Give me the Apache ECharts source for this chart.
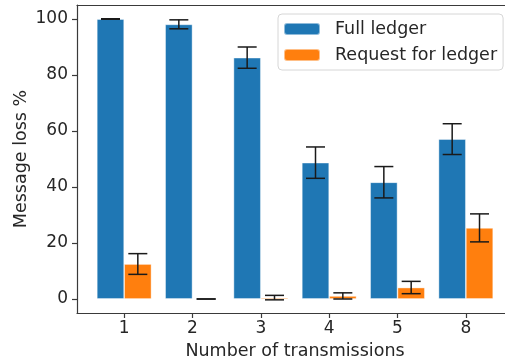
<!DOCTYPE html>
<html>
<head>
<meta charset="utf-8">
<script src="https://cdn.jsdelivr.net/npm/echarts@6/dist/echarts.min.js"></script>
<style>
  html, body { margin: 0; padding: 0; background: #fff; }
  #chart { width: 505px; height: 360px; }
</style>
</head>
<body>
<div id="chart"></div>
<script>
// Message loss by number of transmissions (mean and error half-width)
const categories = ['1', '2', '3', '4', '5', '8'];
const fullLedger = [100, 98.1, 86.2, 48.7, 41.7, 57.1];
const fullLedgerErr = [0.1, 1.6, 3.8, 5.6, 5.6, 5.5];
const requestLedger = [12.5, 0, 0.5, 1.1, 4.1, 25.4];
const requestLedgerErr = [3.7, 0, 0.8, 1.1, 2.2, 5.0];
const yTicks = [0, 20, 40, 60, 80, 100];

const seriesNames = ['Full ledger', 'Request for ledger'];
const colors = ['#1f77b4', '#ff7f0e'];
const offset = 0.2; // each bar is 0.4 category wide, side by side
const font = 'DejaVu Sans';
const ink = '#262626';

const xIndex = categories.map((_, i) => i);
const barData = (vals, shift) => vals.map((v, i) => [i + shift, v]);
const errData = (vals, errs, shift) => vals.map((v, i) => [i + shift, v - errs[i], v + errs[i]]);

function errorBar(params, api) {
  const x = api.value(0);
  const lo = api.coord([x, api.value(1)]);
  const hi = api.coord([x, api.value(2)]);
  const cap = 9.5;
  const style = { stroke: '#1a1a1a', lineWidth: 1.5 };
  return {
    type: 'group',
    children: [
      { type: 'line', shape: { x1: lo[0], y1: lo[1], x2: hi[0], y2: hi[1] }, style },
      { type: 'line', shape: { x1: hi[0] - cap, y1: hi[1], x2: hi[0] + cap, y2: hi[1] }, style },
      { type: 'line', shape: { x1: lo[0] - cap, y1: lo[1], x2: lo[0] + cap, y2: lo[1] }, style }
    ]
  };
}

const chart = echarts.init(document.getElementById('chart'), null, { renderer: 'canvas' });
const spine = { show: true, onZero: false, lineStyle: { color: '#3a3a3a', width: 1.2 } };
const tickStyle = { color: '#3a3a3a', width: 1.2 };

chart.setOption({
  animation: false,
  textStyle: { fontFamily: font, color: ink },
  grid: { left: 77, top: 5, right: -8, bottom: 47, containLabel: false, outerBoundsMode: 'none' },
  legend: {
    orient: 'vertical',
    left: 278,
    top: 14,
    data: seriesNames,
    itemWidth: 36,
    itemHeight: 12,
    itemGap: 8,
    padding: [6, 6, 6, 5],
    borderColor: '#d6d6d6',
    borderWidth: 1,
    borderRadius: 4,
    backgroundColor: 'rgba(255,255,255,0.8)',
    textStyle: { fontFamily: font, fontSize: 17.5, color: ink, padding: [0, 0, 0, 10] }
  },
  xAxis: [
    {
      type: 'value',
      min: -0.69,
      max: 5.69,
      name: 'Number of transmissions',
      nameLocation: 'middle',
      nameGap: 29,
      nameMoveOverlap: false,
      nameTextStyle: { fontFamily: font, fontSize: 17.5, color: ink },
      splitLine: { show: false },
      axisLine: spine,
      axisTick: { show: true, customValues: xIndex, length: 5, lineStyle: tickStyle },
      axisLabel: {
        customValues: xIndex,
        fontFamily: font, fontSize: 17, color: ink, margin: 7,
        formatter: v => categories[Math.round(v)]
      }
    },
    {
      type: 'value', position: 'top', min: -0.69, max: 5.69,
      axisLine: spine, axisTick: { show: false }, axisLabel: { show: false }, splitLine: { show: false }
    }
  ],
  yAxis: [
    {
      type: 'value',
      min: -5,
      max: 105,
      name: 'Message loss %',
      nameLocation: 'middle',
      nameGap: 47,
      nameMoveOverlap: false,
      nameTextStyle: { fontFamily: font, fontSize: 17.5, color: ink },
      splitLine: { show: false },
      axisLine: spine,
      axisTick: { show: true, customValues: yTicks, length: 5, lineStyle: tickStyle },
      axisLabel: { customValues: yTicks, fontFamily: font, fontSize: 17, color: ink, margin: 9 }
    },
    {
      type: 'value', position: 'right', min: -5, max: 105,
      axisLine: spine, axisTick: { show: false }, axisLabel: { show: false }, splitLine: { show: false }
    }
  ],
  series: [
    {
      name: seriesNames[0], type: 'bar', barWidth: 27.4, barGap: '-100%',
      itemStyle: { color: colors[0], borderColor: 'rgba(255,255,255,0.5)', borderWidth: 0.8 },
      data: barData(fullLedger, -offset)
    },
    {
      name: seriesNames[1], type: 'bar', barWidth: 27.4, barGap: '-100%',
      itemStyle: { color: colors[1], borderColor: 'rgba(255,255,255,0.5)', borderWidth: 0.8 },
      data: barData(requestLedger, offset)
    },
    {
      type: 'custom', renderItem: errorBar, z: 5,
      encode: { x: 0, y: [1, 2] },
      data: errData(fullLedger, fullLedgerErr, -offset)
    },
    {
      type: 'custom', renderItem: errorBar, z: 5,
      encode: { x: 0, y: [1, 2] },
      data: errData(requestLedger, requestLedgerErr, offset)
    }
  ]
});
</script>
</body>
</html>
